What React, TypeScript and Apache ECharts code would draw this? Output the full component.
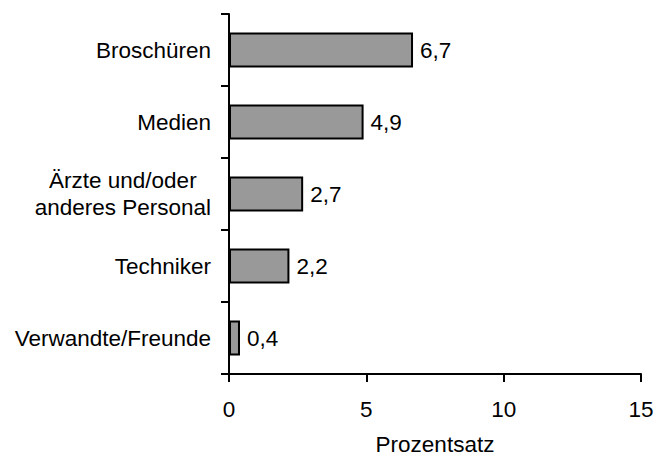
import React, { useEffect, useRef } from "react";
import * as echarts from "echarts";

const categories: string[] = [
  "Broschüren",
  "Medien",
  "Ärzte und/oder\nanderes Personal",
  "Techniker",
  "Verwandte/Freunde",
];
const values: number[] = [6.7, 4.9, 2.7, 2.2, 0.4];
const xMin = 0;
const xMax = 15;
const xInterval = 5;
const xName = "Prozentsatz";

const FONT = "'Liberation Sans', Arial, Helvetica, sans-serif";
const FS = 22.5;

export default function App() {
  const ref = useRef<HTMLDivElement>(null);
  useEffect(() => {
    if (!ref.current) return;
    const chart = echarts.init(ref.current, undefined, { renderer: "svg" });
    chart.setOption({
      animation: false,
      backgroundColor: "#ffffff",
      textStyle: { fontFamily: FONT },
      grid: {
        left: 229,
        right: 23,
        top: 14,
        bottom: 84,
        containLabel: false,
        outerBoundsMode: "none",
      },
      xAxis: {
        type: "value",
        min: xMin,
        max: xMax,
        interval: xInterval,
        name: xName,
        nameLocation: "middle",
        nameGap: 61,
        nameTextStyle: { fontSize: FS, lineHeight: 18, color: "#000", fontFamily: FONT },
        axisLine: { show: true, lineStyle: { color: "#000", width: 2 } },
        axisTick: { show: true, inside: false, length: 8, lineStyle: { color: "#000", width: 2 } },
        axisLabel: { fontSize: FS, color: "#000", margin: 24, fontFamily: FONT },
        splitLine: { show: false },
      },
      yAxis: {
        type: "category",
        data: categories,
        inverse: true,
        boundaryGap: true,
        axisLine: { show: true, lineStyle: { color: "#000", width: 2 } },
        axisTick: { show: true, inside: false, length: 8, alignWithLabel: false, lineStyle: { color: "#000", width: 2 } },
        axisLabel: {
          margin: 18,
          fontSize: FS,
          color: "#000",
          fontFamily: FONT,
          formatter: (v: string) =>
            v
              .split("\n")
              .map((s) => `{c|${s}}`)
              .join("\n"),
          rich: {
            c: { align: "center", fontSize: FS, color: "#000", fontFamily: FONT, lineHeight: 27 },
          },
        },
        splitLine: { show: false },
      },
      series: [
        {
          type: "bar",
          data: values,
          barWidth: 35,
          itemStyle: { color: "#999999", borderColor: "#000", borderWidth: 2 },
          label: {
            show: true,
            position: "right",
            distance: 7,
            fontSize: FS,
            color: "#000",
            fontFamily: FONT,
            formatter: (p: any) => String(p.value).replace(".", ","),
          },
        },
      ],
    });
    return () => chart.dispose();
  }, []);
  return (
    <div
      ref={ref}
      style={{ position: "fixed", left: 0, top: 0, width: 664, height: 458 }}
    />
  );
}
